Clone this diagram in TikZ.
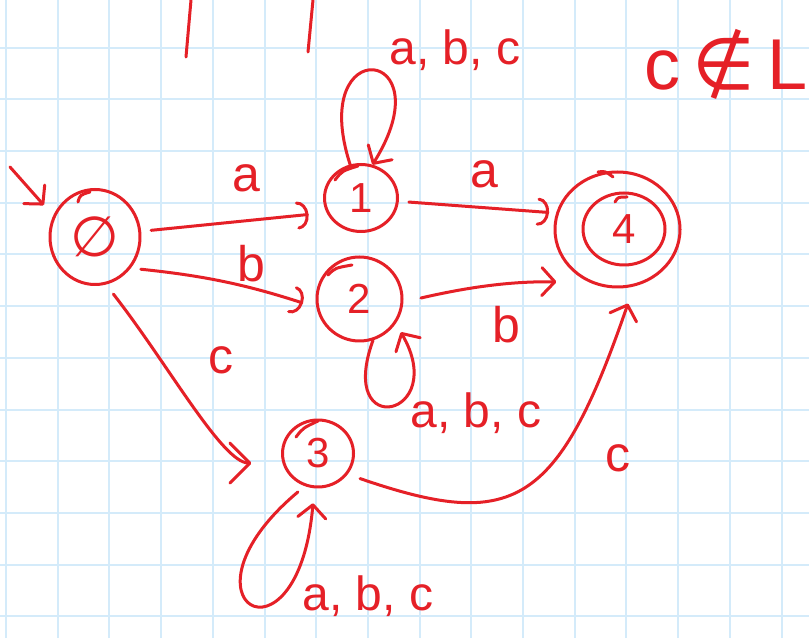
\documentclass[tikz,border=0pt]{standalone}
\usepackage{fontspec}
\setmainfont{Liberation Sans}
\newfontfamily\symfont{DejaVu Sans}
\usetikzlibrary{arrows.meta,shapes.geometric}
\definecolor{ink}{RGB}{229,32,39}
\definecolor{gridblue}{RGB}{212,235,250}
\begin{document}
\begin{tikzpicture}[x=1pt,y=1pt,
  pen/.style={draw=ink, line width=3pt, line cap=round, line join=round},
  state/.style={pen, ellipse, inner sep=0pt, text=ink, font=\fontsize{42}{50}\selectfont},
  edge/.style={pen, -{Straight Barb[length=13pt,width=28pt,line cap=round,line join=round]}},
  arcedge/.style={pen, -{Arc Barb[length=11pt,width=28pt,line cap=round]}},
  bigedge/.style={pen, -{Straight Barb[length=20pt,width=40pt,line cap=round,line join=round]}},
  lbl/.style={text=ink, anchor=base, inner sep=0pt, font=\fontsize{50}{60}\selectfont},
  lbls/.style={text=ink, anchor=base, inner sep=0pt, font=\fontsize{48}{58}\selectfont},
  gridline/.style={draw=gridblue, line width=2pt}
]
\useasboundingbox (0,0) rectangle (809,638);
\fill[white] (0,0) rectangle (809,638);
\foreach \k in {0,...,15} \draw[gridline] ({6+51.7*\k},0) -- ({6+51.7*\k},638);
\foreach \k in {1,...,12} \draw[gridline] (0,{642-51.7*\k}) -- (809,{642-51.7*\k});

% top marks
\draw[pen] (191,638) -- (186,581);
\draw[pen] (313,638) -- (308,586);

% states
\node[state, minimum width=90pt, minimum height=95pt] (s0) at (95,401) {\fontsize{56}{60}\symfont ∅};
\node[state, minimum width=73pt, minimum height=67pt] (s1) at (361,440) {1};
\node[state, minimum width=85pt, minimum height=84pt] (s2) at (359.5,339) {2};
\node[state, minimum width=71pt, minimum height=67pt] (s3) at (318,184.5) {3};
\node[state, minimum width=125pt, minimum height=115pt] (s4) at (617.5,408.5) {};
\node[state, minimum width=82pt, minimum height=72pt] (s4in) at (624,409) {4};

% pen overlaps where the circles were closed
\draw[pen] (78,436) .. controls (80,443) .. (90,446);
\draw[pen] (335,458) .. controls (342,467) .. (358,472);
\draw[pen] (328,363) .. controls (335,370) .. (352,373);
\draw[pen] (296,201) .. controls (303,210) .. (318,217);
\draw[pen] (598,466) .. controls (605,467) .. (613,461);
\draw[pen] (615,436) .. controls (618,441) .. (627,441);

% initial arrow
\coordinate (init) at (10,471);
\draw[edge, shorten >=14pt] (init) -- (s0.153);

% transitions
\draw[arcedge, shorten <=10pt, shorten >=18pt] (s0.7) -- (s1.-157);
\draw[arcedge, shorten <=10pt, shorten >=14pt] (s0.-41) to[bend left=6] (s2.-169);
\draw[bigedge, shorten <=12pt, shorten >=31pt] (s0.-77) .. controls +(-52:100) and +(180:60) .. (s3.195);
\draw[arcedge, shorten <=10pt, shorten >=7pt] (s1.-5) -- (s4.165);
\draw[edge, shorten <=18pt, shorten >=33pt] (s2.-4) to[bend left=7] (s4.-118);
\draw[edge, shorten <=13pt, shorten >=18pt] (s3.-35) .. controls +(-19:175) and +(-109:234) .. (s4.-74);

% self loops
\draw[edge] (s1.108) .. controls +(108:140) and +(58:140) .. (s1.71);
\draw[edge, shorten >=10pt] (s2.-72) .. controls +(-110:108) and +(-60:108) .. (s2.-34);
\draw[edge, shorten <=9pt, shorten >=15pt] (s3.-112) .. controls +(-140:180) and +(-95:190) .. (s3.-96);

% labels
\node[lbl] (la01) at (246,446) {a};
\node[lbl] (lb02) at (251,356) {b};
\node[lbl] (lc03) at (221,264) {c};
\node[lbl] (la14) at (484,450) {a};
\node[lbl] (lb24) at (506,295) {b};
\node[lbl] (lc34) at (618,166) {c};
\node[lbls] (loop1) at (455,573) {a, b, c};
\node[lbls] (loop2) at (476,210) {a, b, c};
\node[lbls] (loop3) at (368,28) {a, b, c};
\node[text=ink, anchor=base, inner sep=0pt, font=\fontsize{72}{80}\selectfont] (notin) at (726,548) {c\,{\symfont ∉}\,L};
\end{tikzpicture}
\end{document}
